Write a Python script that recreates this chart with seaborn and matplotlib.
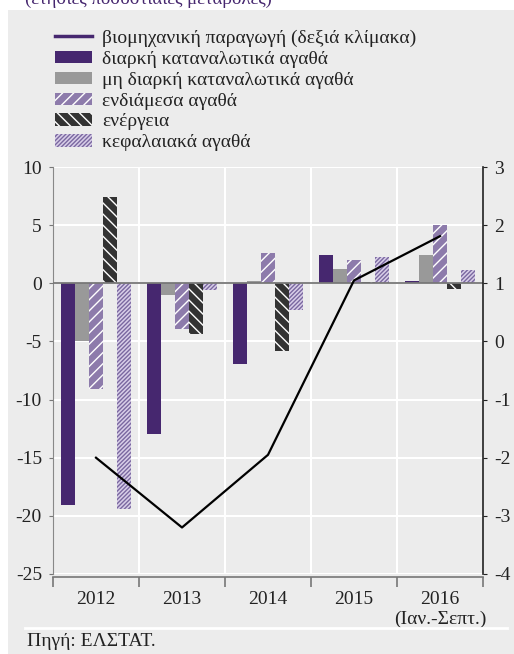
import pandas as pd
import matplotlib.pyplot as plt
import seaborn as sns
from matplotlib.patches import Patch, Rectangle
from matplotlib.lines import Line2D

years = ['2012', '2013', '2014', '2015', '2016\n(Ιαν.-Σεπτ.)']
series_names = [
    'διαρκή καταναλωτικά αγαθά',
    'μη διαρκή καταναλωτικά αγαθά',
    'ενδιάμεσα αγαθά',
    'ενέργεια',
    'κεφαλαιακά αγαθά',
]
durable = [-19.1, -13.0, -6.9, 2.4, 0.2]
non_durable = [-5.0, -1.0, 0.2, 1.2, 2.4]
intermediate = [-9.1, -3.9, 2.6, 2.0, 5.0]
energy = [7.4, -4.4, -5.8, 0.1, -0.5]
capital = [-19.4, -0.6, -2.3, 2.3, 1.1]
industrial = [-2.0, -3.2, -1.95, 1.05, 1.81]
line_label = 'βιομηχανική παραγωγή (δεξιά κλίμακα)'

colors = ['#46276f', '#999999', '#8d7bab', '#333333', '#d8cee8']
hatches = [None, None, '///', '\\\\\\', '////////']
hatch_colors = [None, None, 'white', 'white', '#7a68a0']

plt.rcParams['font.family'] = ['Liberation Serif', 'DejaVu Serif']
plt.rcParams['hatch.linewidth'] = 1.0
plt.rcParams['axes.unicode_minus'] = False

df = pd.DataFrame({
    'year': years * 5,
    'series': [s for s in series_names for _ in years],
    'value': durable + non_durable + intermediate + energy + capital,
})

fig = plt.figure(figsize=(5.14, 6.54), dpi=100)
fig.patch.set_facecolor('white')
bg = '#ececec'
fig.patches.append(Rectangle((8 / 514, 0), 1, (654 - 10) / 654, transform=fig.transFigure,
                             facecolor=bg, edgecolor='none', zorder=-10))
# title cut off at top
fig.text(25 / 514, 1.0 + 1 / 654, '(ετήσιες ποσοστιαίες μεταβολές)', color='#46276f',
         fontsize=13.5, va='center', ha='left')
# separator and source
fig.add_artist(Line2D([25 / 514, 507 / 514], [(654 - 628) / 654] * 2, transform=fig.transFigure,
                      color='white', lw=2))
fig.text(27 / 514, (654 - 642) / 654, 'Πηγή: ΕΛΣΤΑΤ.', fontsize=14, color='#222222',
         va='center', ha='left')

ax = fig.add_axes([53 / 514, (654 - 574) / 654, (483 - 53) / 514, (574 - 167) / 654])
ax.set_facecolor(bg)
sns.barplot(data=df, x='year', y='value', hue='series', hue_order=series_names,
            palette=colors, width=0.82, gap=0, ax=ax, legend=False, saturation=1)

for cont, h, hc in zip(ax.containers, hatches, hatch_colors):
    for p in cont.patches:
        p.set_linewidth(0)
        if h:
            p.set_hatch(h)
            p.set_edgecolor(hc)
        p.set_zorder(3)

ax.set_ylim(-25, 10)
ax.set_xlim(-0.5, 4.5)
ax.set_yticks(range(-25, 11, 5))
ax.set_xlabel('')
ax.set_ylabel('')
ax.axhline(0, color='#777777', lw=1.3, zorder=4)

ax.set_xticks([-0.5, 0.5, 1.5, 2.5, 3.5, 4.5], minor=True)
ax.tick_params(axis='x', which='major', length=0, labelsize=14, pad=10, colors='#222222')
ax.tick_params(axis='x', which='minor', length=7, width=1.2, color='#777777', direction='out')
ax.tick_params(axis='y', length=3, color='#777777', labelsize=14, colors='#222222', pad=5)
ax.grid(False)
for y in range(-25, 11, 5):
    ax.axhline(y, color='white', lw=1.5, zorder=0)
for x in [0.5, 1.5, 2.5, 3.5]:
    ax.axvline(x, color='white', lw=1.5, zorder=0)

for s in ['top', 'right']:
    ax.spines[s].set_visible(False)
ax.spines['left'].set_color('#888888')
ax.spines['bottom'].set_color('#777777')
ax.spines['bottom'].set_linewidth(1.2)
ax.spines['bottom'].set_position(('outward', 2))

ax2 = ax.twinx()
sns.lineplot(x=list(range(5)), y=industrial, ax=ax2, color='black', lw=1.6, zorder=5)
ax2.set_ylim(-4, 3)
ax2.set_yticks(range(-4, 4))
ax2.tick_params(axis='y', length=3, labelsize=14, colors='#222222', pad=5)
for s in ['top', 'left', 'bottom']:
    ax2.spines[s].set_visible(False)
ax2.spines['right'].set_color('#222222')
ax2.spines['right'].set_linewidth(1.2)

handles = [Line2D([0], [0], color='#46276f', lw=2.5)]
for c, h, hc in zip(colors, hatches, hatch_colors):
    handles.append(Patch(facecolor=c, hatch=h, edgecolor=hc if hc else c, linewidth=0))
fig.legend(handles, [line_label] + series_names, loc='upper left',
           bbox_to_anchor=(37 / 514, (654 - 12) / 654), frameon=False, fontsize=14,
           handlelength=1.95, handleheight=0.6, handletextpad=0.5, labelspacing=0.2,
           labelcolor='#222222')

fig.savefig('out.png', dpi=100)
